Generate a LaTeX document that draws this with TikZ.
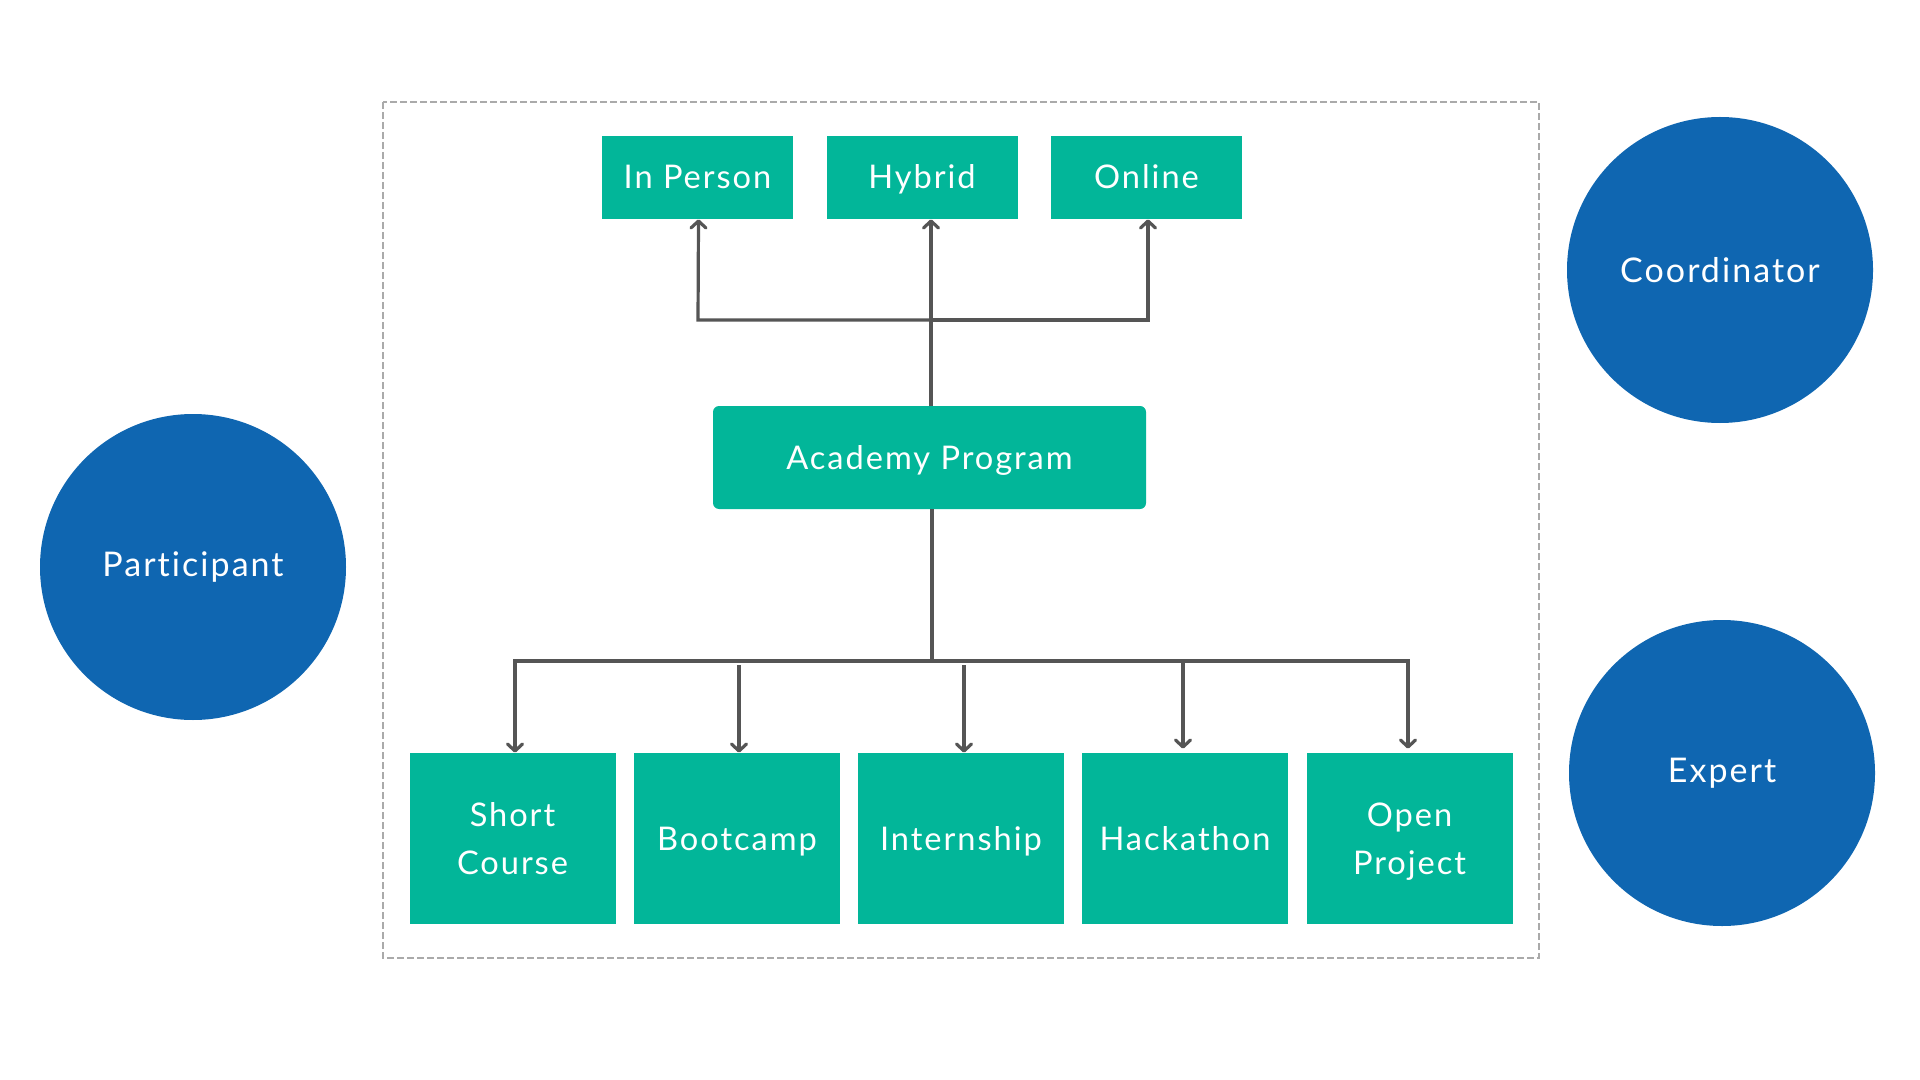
\documentclass[tikz,border=0pt]{standalone}
\usepackage{fontspec}
\setmainfont{Lato}[LetterSpace=6, Ligatures={NoCommon}]
\usetikzlibrary{arrows.meta}
\definecolor{teal1}{HTML}{02B699}
\definecolor{blue1}{HTML}{0F66B1}
\definecolor{line1}{HTML}{555555}
\definecolor{frame1}{HTML}{AAAAAA}
\tikzset{
  box/.style={fill=teal1, text=white, inner sep=0pt, align=center, font=\fontsize{16.3}{24}\selectfont},
  oneline/.style={text height=11.5pt, text depth=0pt},
  smallbox/.style={box, oneline, minimum width=95.5pt, minimum height=41.5pt},
  bigbox/.style={box, minimum width=103pt, minimum height=85.5pt},
  role/.style={circle, fill=blue1, text=white, minimum size=153pt, inner sep=0pt, font=\fontsize{17}{20}\selectfont},
  conn/.style={draw=line1, line width=1.6pt},
  arr/.style={conn, -{Straight Barb[length=3.5pt,width=7.5pt,line cap=round,line join=round]}},
}
\begin{document}
\begin{tikzpicture}[x=0.5pt,y=-0.5pt]
\useasboundingbox (0,0) rectangle (1920,1080);
% frame
\draw[frame1, line width=1.1pt, dash pattern=on 3.5pt off 1.5pt] (383,102) rectangle (1539,958);
% top boxes
\node[smallbox] (inperson) at (697.5,177.5) {In Person};
\node[smallbox] (hybrid) at (922,177.5) {Hybrid};
\node[smallbox] (online) at (1146.5,177.5) {Online};
% center
\node[box, oneline, rounded corners=3pt, minimum width=216.5pt, minimum height=51.5pt] (academy) at (929.5,457.5) {Academy Program};
% bottom boxes
\node[bigbox] (short) at (512.5,838.5) {Short\\Course};
\node[bigbox, oneline] (boot) at (737,838.5) {Bootcamp};
\node[bigbox, oneline] (intern) at (961,838.5) {Internship};
\node[bigbox, oneline] (hack) at (1185,838.5) {Hackathon};
\node[bigbox, text depth=0pt] (open) at (1409.5,838.5) {Open\\Project};
% circles
\node[role] (participant) at (193,567) {Participant};
\node[role] (coordinator) at (1720,270) {Coordinator};
\node[role] (expert) at (1722,773) {Expert};
% coordinates
\coordinate (ctop) at (931,320);
\coordinate (cbot) at (932,661);
% top connectors
\draw[arr] (academy.north -| ctop) -- (ctop) -- (hybrid.south -| ctop);
\draw[arr] (ctop) -- (ctop -| 698,0) -- ([xshift=0.5pt]inperson.south);
\draw[arr] (ctop) -- (ctop -| 1148,0) -- ([xshift=0.75pt]online.south);
% bottom connectors
\draw[conn] (academy.south -| cbot) -- (cbot);
\coordinate (sb) at (515,661);
\coordinate (ob) at (1408,661);
\draw[arr] (cbot) -- (sb) -- (sb |- short.north);
\draw[arr] (cbot) -- (ob) -- ([yshift=2pt]ob |- open.north);
\coordinate (bb) at (739,665);
\coordinate (ib) at (964,665);
\coordinate (hb) at (1183,661);
\draw[arr] (bb) -- (bb |- boot.north);
\draw[arr] (ib) -- (ib |- intern.north);
\draw[arr] (hb) -- ([yshift=2pt]hb |- hack.north);
\end{tikzpicture}
\end{document}
